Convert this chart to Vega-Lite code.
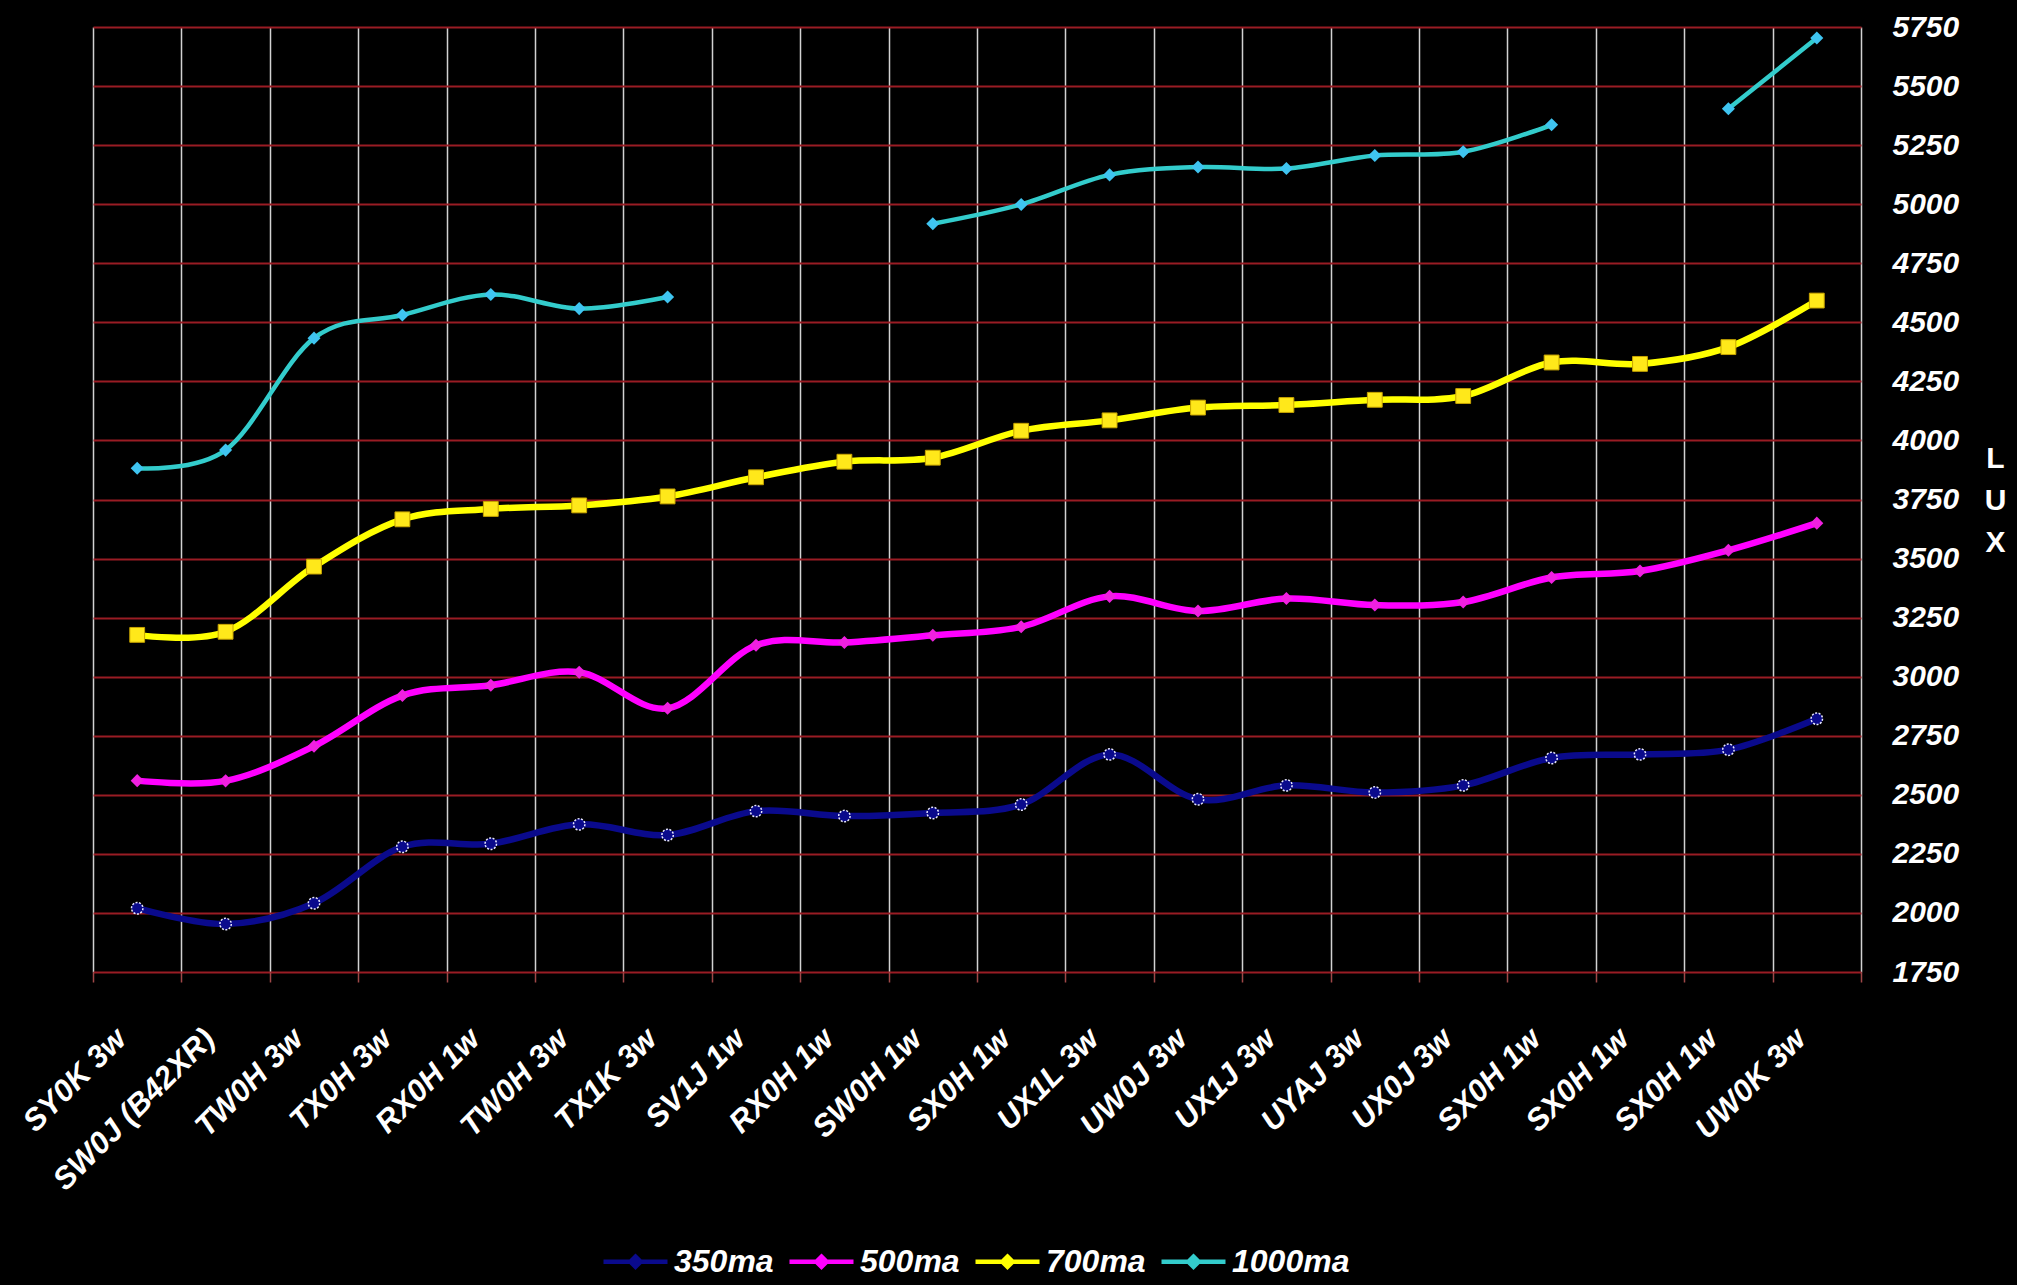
{
  "$schema": "https://vega.github.io/schema/vega-lite/v6.json",
  "width": 1768,
  "height": 945,
  "autosize": {"type": "none"},
  "padding": {"left": 93, "top": 27, "right": 156, "bottom": 313},
  "background": "#000000",
  "config": {
    "view": {"stroke": null},
    "font": "Liberation Sans"
  },
  "data": {
    "values": [
      {"model": "SY0K 3w", "series": "350ma", "lux": 2020},
      {"model": "SW0J (B42XR)", "series": "350ma", "lux": 1953},
      {"model": "TW0H  3w", "series": "350ma", "lux": 2041},
      {"model": "TX0H  3w", "series": "350ma", "lux": 2280},
      {"model": "RX0H 1w", "series": "350ma", "lux": 2293},
      {"model": "TW0H 3w", "series": "350ma", "lux": 2375},
      {"model": "TX1K 3w", "series": "350ma", "lux": 2330},
      {"model": "SV1J 1w", "series": "350ma", "lux": 2431},
      {"model": "RX0H  1w", "series": "350ma", "lux": 2410},
      {"model": "SW0H 1w", "series": "350ma", "lux": 2423},
      {"model": "SX0H 1w", "series": "350ma", "lux": 2459},
      {"model": "UX1L 3w", "series": "350ma", "lux": 2671},
      {"model": "UW0J 3w", "series": "350ma", "lux": 2481},
      {"model": "UX1J 3w", "series": "350ma", "lux": 2540},
      {"model": "UYAJ 3w", "series": "350ma", "lux": 2510},
      {"model": "UX0J 3w", "series": "350ma", "lux": 2540},
      {"model": "SX0H 1w\u200b", "series": "350ma", "lux": 2656},
      {"model": "SX0H 1w\u200b\u200b", "series": "350ma", "lux": 2671},
      {"model": "SX0H 1w\u200b\u200b\u200b", "series": "350ma", "lux": 2691},
      {"model": "UW0K 3w", "series": "350ma", "lux": 2822},

      {"model": "SY0K 3w", "series": "500ma", "lux": 2560},
      {"model": "SW0J (B42XR)", "series": "500ma", "lux": 2559},
      {"model": "TW0H  3w", "series": "500ma", "lux": 2706},
      {"model": "TX0H  3w", "series": "500ma", "lux": 2920},
      {"model": "RX0H 1w", "series": "500ma", "lux": 2964},
      {"model": "TW0H 3w", "series": "500ma", "lux": 3019},
      {"model": "TX1K 3w", "series": "500ma", "lux": 2866},
      {"model": "SV1J 1w", "series": "500ma", "lux": 3133},
      {"model": "RX0H  1w", "series": "500ma", "lux": 3145},
      {"model": "SW0H 1w", "series": "500ma", "lux": 3175},
      {"model": "SX0H 1w", "series": "500ma", "lux": 3211},
      {"model": "UX1L 3w", "series": "500ma", "lux": 3340},
      {"model": "UW0J 3w", "series": "500ma", "lux": 3278},
      {"model": "UX1J 3w", "series": "500ma", "lux": 3331},
      {"model": "UYAJ 3w", "series": "500ma", "lux": 3303},
      {"model": "UX0J 3w", "series": "500ma", "lux": 3316},
      {"model": "SX0H 1w\u200b", "series": "500ma", "lux": 3420},
      {"model": "SX0H 1w\u200b\u200b", "series": "500ma", "lux": 3447},
      {"model": "SX0H 1w\u200b\u200b\u200b", "series": "500ma", "lux": 3535},
      {"model": "UW0K 3w", "series": "500ma", "lux": 3650},

      {"model": "SY0K 3w", "series": "700ma", "lux": 3177},
      {"model": "SW0J (B42XR)", "series": "700ma", "lux": 3190},
      {"model": "TW0H  3w", "series": "700ma", "lux": 3466},
      {"model": "TX0H  3w", "series": "700ma", "lux": 3666},
      {"model": "RX0H 1w", "series": "700ma", "lux": 3710},
      {"model": "TW0H 3w", "series": "700ma", "lux": 3725},
      {"model": "TX1K 3w", "series": "700ma", "lux": 3763},
      {"model": "SV1J 1w", "series": "700ma", "lux": 3844},
      {"model": "RX0H  1w", "series": "700ma", "lux": 3910},
      {"model": "SW0H 1w", "series": "700ma", "lux": 3927},
      {"model": "SX0H 1w", "series": "700ma", "lux": 4041},
      {"model": "UX1L 3w", "series": "700ma", "lux": 4085},
      {"model": "UW0J 3w", "series": "700ma", "lux": 4139},
      {"model": "UX1J 3w", "series": "700ma", "lux": 4150},
      {"model": "UYAJ 3w", "series": "700ma", "lux": 4172},
      {"model": "UX0J 3w", "series": "700ma", "lux": 4188},
      {"model": "SX0H 1w\u200b", "series": "700ma", "lux": 4330},
      {"model": "SX0H 1w\u200b\u200b", "series": "700ma", "lux": 4324},
      {"model": "SX0H 1w\u200b\u200b\u200b", "series": "700ma", "lux": 4395},
      {"model": "UW0K 3w", "series": "700ma", "lux": 4592},

      {"model": "SY0K 3w", "series": "1000ma", "lux": 3882},
      {"model": "SW0J (B42XR)", "series": "1000ma", "lux": 3959},
      {"model": "TW0H  3w", "series": "1000ma", "lux": 4433},
      {"model": "TX0H  3w", "series": "1000ma", "lux": 4531},
      {"model": "RX0H 1w", "series": "1000ma", "lux": 4618},
      {"model": "TW0H 3w", "series": "1000ma", "lux": 4558},
      {"model": "TX1K 3w", "series": "1000ma", "lux": 4607},
      {"model": "SV1J 1w", "series": "1000ma", "lux": null},
      {"model": "RX0H  1w", "series": "1000ma", "lux": null},
      {"model": "SW0H 1w", "series": "1000ma", "lux": 4917},
      {"model": "SX0H 1w", "series": "1000ma", "lux": 4999},
      {"model": "UX1L 3w", "series": "1000ma", "lux": 5124},
      {"model": "UW0J 3w", "series": "1000ma", "lux": 5157},
      {"model": "UX1J 3w", "series": "1000ma", "lux": 5151},
      {"model": "UYAJ 3w", "series": "1000ma", "lux": 5206},
      {"model": "UX0J 3w", "series": "1000ma", "lux": 5222},
      {"model": "SX0H 1w\u200b", "series": "1000ma", "lux": 5336},
      {"model": "SX0H 1w\u200b\u200b", "series": "1000ma", "lux": null},
      {"model": "SX0H 1w\u200b\u200b\u200b", "series": "1000ma", "lux": 5404},
      {"model": "UW0K 3w", "series": "1000ma", "lux": 5703}
    ]
  },
  "encoding": {
    "x": {
      "field": "model",
      "type": "ordinal",
      "sort": null,
      "bandPosition": 0.5,
      "scale": {"type": "band", "paddingInner": 0, "paddingOuter": 0},
      "axis": {
        "title": null,
        "orient": "bottom",
        "domain": false,
        "grid": true,
        "gridColor": "#D2D2D2",
        "gridWidth": 1.5,
        "tickBand": "extent",
        "ticks": true,
        "tickColor": "#A04848",
        "tickSize": 10,
        "tickWidth": 1.5,
        "labelAngle": -45,
        "labelAlign": "right",
        "labelBaseline": "middle",
        "labelFont": "Liberation Sans",
        "labelFontSize": 31,
        "labelFontWeight": "bold",
        "labelFontStyle": "italic",
        "labelColor": "#FFFFFF",
        "labelPadding": 52,
        "labelOffset": -16,
        "labelOverlap": false,
        "labelLimit": 0
      }
    },
    "y": {
      "field": "lux",
      "type": "quantitative",
      "scale": {"domain": [1750, 5750], "nice": false, "zero": false},
      "axis": {
        "orient": "right",
        "format": "d",
        "title": ["L", "U", "X"],
        "titleAngle": 0,
        "titleAlign": "center",
        "titleBaseline": "middle",
        "titleX": 134,
        "titleY": 431,
        "titleFont": "Liberation Sans",
        "titleFontSize": 30,
        "titleFontWeight": "bold",
        "titleColor": "#FFFFFF",
        "titleLineHeight": 42,
        "values": [1750, 2000, 2250, 2500, 2750, 3000, 3250, 3500, 3750, 4000, 4250, 4500, 4750, 5000, 5250, 5500, 5750],
        "grid": true,
        "gridColor": "#9A1C24",
        "gridWidth": 2,
        "ticks": false,
        "domain": false,
        "labelPadding": 31,
        "labelFont": "Liberation Sans",
        "labelFontSize": 30,
        "labelFontWeight": "bold",
        "labelFontStyle": "italic",
        "labelColor": "#FFFFFF",
        "labelBaseline": "middle"
      }
    }
  },
  "layer": [
    {
      "transform": [{"filter": "datum.series !== '1000ma'"}],
      "mark": {"type": "line", "interpolate": "cardinal", "strokeWidth": 6.5},
      "encoding": {
        "stroke": {
          "field": "series",
          "type": "nominal",
          "scale": {"domain": ["350ma", "500ma", "700ma", "1000ma"], "range": ["#0A0A8C", "#FF00FF", "#FFFF00", "#33CCCC"]},
          "legend": {
            "title": null,
            "orient": "none",
            "legendX": 508,
            "legendY": 1200,
            "direction": "horizontal",
            "labelFont": "Liberation Sans",
            "labelFontSize": 32,
            "labelFontWeight": "bold",
            "labelFontStyle": "italic",
            "labelColor": "#FFFFFF",
            "symbolType": "M-1,0L1,0M0,-0.16L0.16,0L0,0.16L-0.16,0Z",
            "symbolSize": 4096,
            "symbolStrokeWidth": 4.5,
            "labelOffset": 4,
            "columnPadding": 6
          }
        }
      }
    },
    {
      "transform": [{"filter": "datum.series === '1000ma'"}],
      "mark": {"type": "line", "interpolate": "cardinal", "stroke": "#33CCCC", "strokeWidth": 4.5}
    },
    {
      "transform": [{"filter": "datum.series === '350ma'"}],
      "mark": {"type": "point", "shape": "circle", "filled": true, "fill": "#0A0A8C", "stroke": "#E8E8FF", "strokeWidth": 1.5, "strokeDash": [2, 1.5], "size": 130, "opacity": 1}
    },
    {
      "transform": [{"filter": "datum.series === '500ma'"}],
      "mark": {"type": "point", "shape": "diamond", "filled": true, "fill": "#F020E0", "strokeWidth": 0, "size": 170, "opacity": 1}
    },
    {
      "transform": [{"filter": "datum.series === '700ma'"}],
      "mark": {"type": "point", "shape": "square", "filled": true, "fill": "#FFE81A", "stroke": "#C8A400", "strokeWidth": 1, "size": 220, "opacity": 1}
    },
    {
      "transform": [{"filter": "datum.series === '1000ma'"}],
      "mark": {"type": "point", "shape": "diamond", "filled": true, "fill": "#3FC4F0", "strokeWidth": 0, "size": 170, "opacity": 1}
    }
  ]
}
